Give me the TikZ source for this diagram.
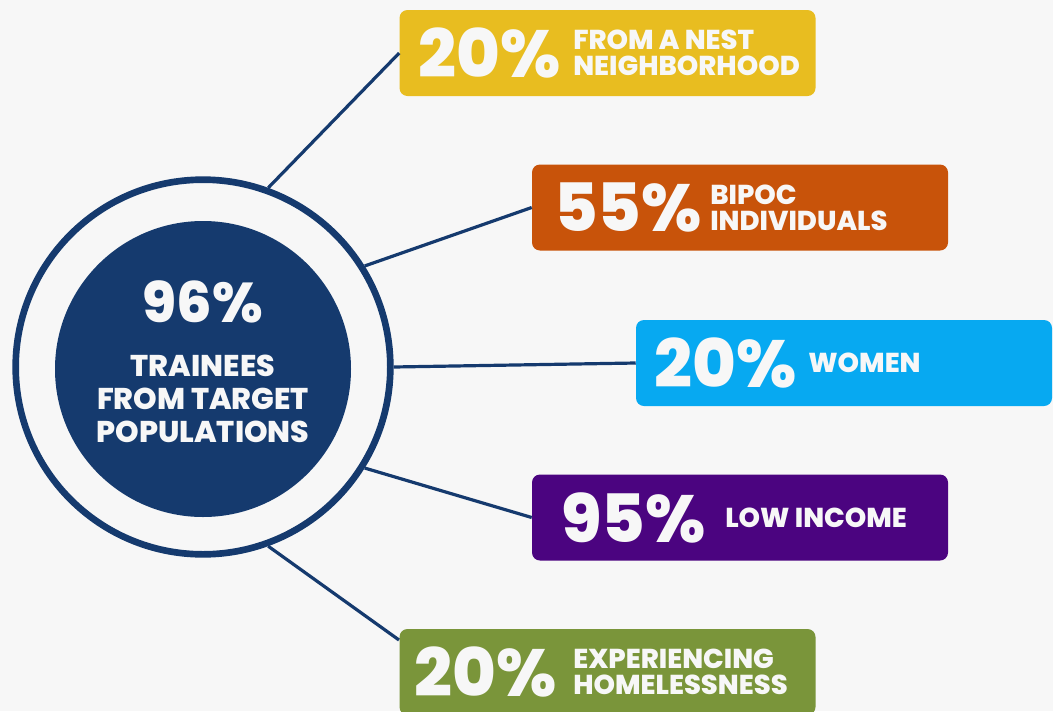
\documentclass[tikz,border=0pt]{standalone}
\usepackage{fontspec}
\setmainfont{Poppins}[BoldFont={Poppins ExtraBold}]
\usepackage{tikz}

\definecolor{navy}{HTML}{153A6E}
\definecolor{paper}{HTML}{F7F7F7}
\definecolor{nestyellow}{HTML}{E8BD20}
\definecolor{bipocorange}{HTML}{C8530A}
\definecolor{womenblue}{HTML}{07A9F1}
\definecolor{incomepurple}{HTML}{4B0480}
\definecolor{homegreen}{HTML}{7A953A}

\begin{document}
\begin{tikzpicture}[x=0.75pt, y=-0.75pt,
    statbox/.style={shape=rectangle, rounded corners=6pt, minimum width=312pt, minimum height=64.5pt, inner sep=0pt},
    pct/.style={anchor=west, inner sep=0pt, text=paper, font=\bfseries\fontsize{50}{50}\selectfont},
    what/.style={anchor=west, inner sep=0pt, text=paper, align=left, font=\bfseries\fontsize{20.5}{19.5}\selectfont},
    link/.style={draw=navy, line width=2.4pt}]

	\fill[paper] (0,0) rectangle (1053,711);
	\useasboundingbox (0,0) rectangle (1053,711);

	\node[shape=circle, draw=navy, line width=5pt, minimum size=281pt] (ring) at (203, 367) {};
	\node[shape=circle, fill=navy, minimum size=222pt] (core) at (203, 369) {};
	\node[inner sep=0pt, text=paper, font=\bfseries\fontsize{42}{42}\selectfont] (total) at (203, 302) {96\%};
	\node[inner sep=0pt, text=paper, align=center, font=\bfseries\fontsize{22.5}{25}\selectfont] (who) at (203, 399) {TRAINEES\\FROM TARGET\\POPULATIONS};

	\node[statbox, fill=nestyellow] (nest) at (607.5, 53) {};
	\node[statbox, fill=bipocorange] (bipoc) at (740, 207.5) {};
	\node[statbox, fill=womenblue] (women) at (844, 363) {};
	\node[statbox, fill=incomepurple] (income) at (740, 517.5) {};
	\node[statbox, fill=homegreen] (homeless) at (607.5, 672) {};

	\node[pct] (nestpct) at (418, 53) {20\%};
	\node[what] (nestwhat) at (573, 53) {FROM A NEST\\NEIGHBORHOOD};
	\node[pct] (bipocpct) at (554, 207.5) {55\%};
	\node[what] (bipocwhat) at (710, 207.5) {BIPOC\\INDIVIDUALS};
	\node[pct] (womenpct) at (654, 363) {20\%};
	\node[what] (womenwhat) at (808, 363) {WOMEN};
	\node[pct] (incomepct) at (561, 518) {95\%};
	\node[what] (incomewhat) at (725, 518) {LOW INCOME};
	\node[pct] (homelesspct) at (414, 672) {20\%};
	\node[what] (homelesswhat) at (573, 672) {EXPERIENCING\\HOMELESSNESS};

	\coordinate (homelessin) at (399, 640);

    \path[link] (ring.70) edge (nest.west);
    \path[link] (ring.32) edge (bipoc.west);
    \path[link] (ring.0) edge (women.west);
    \path[link] (ring.-32) edge (income.west);
    \path[link] (ring.-70) edge (homelessin);

\end{tikzpicture}
\end{document}
